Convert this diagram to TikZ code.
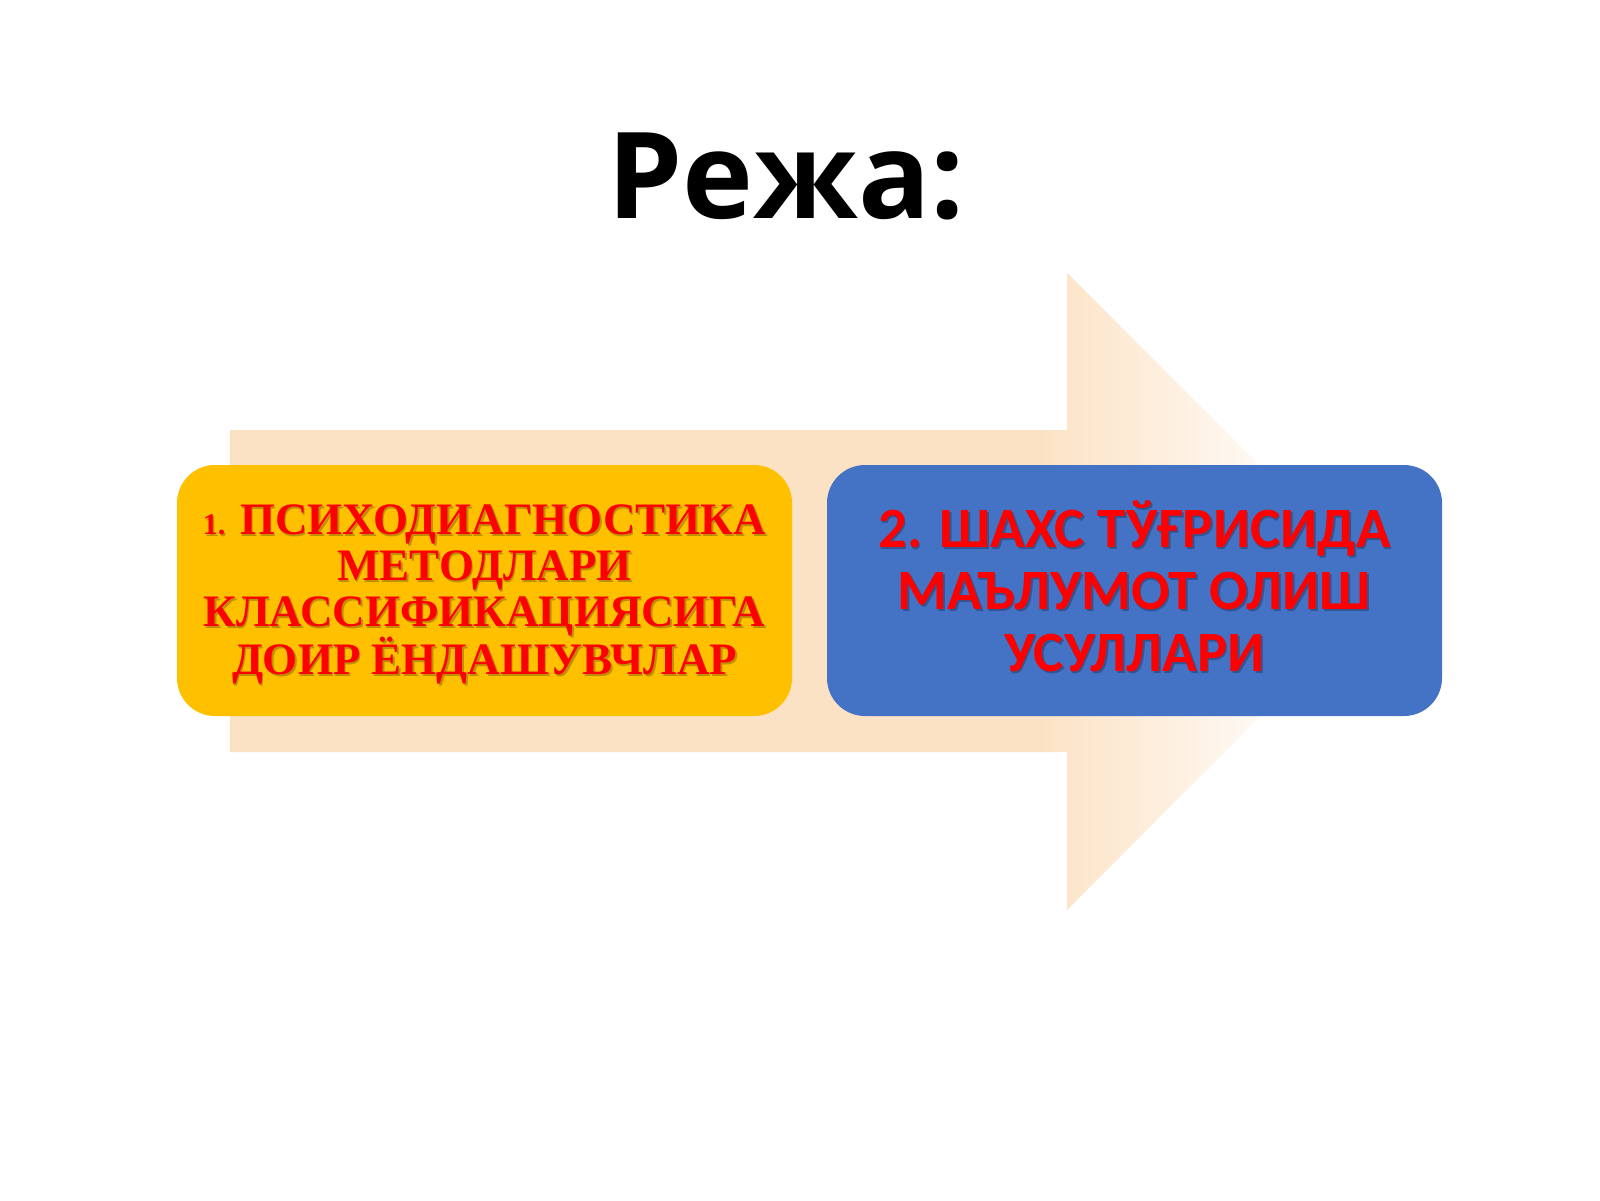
\documentclass[tikz,border=0pt]{standalone}
\usepackage{fontspec}
\setmainfont{Liberation Serif}
\newfontfamily\titlefont{Open Sans}
\newfontfamily\bluefont{Carlito}
\newfontfamily\serifb{Liberation Serif}
\definecolor{peach}{RGB}{252,226,196}
\definecolor{ybox}{RGB}{255,192,0}
\definecolor{bbox}{RGB}{68,114,196}
\definecolor{redtxt}{RGB}{255,0,0}
\pgfdeclarehorizontalshading{arrowfade}{100bp}{color(0bp)=(peach); color(25bp)=(peach); color(60bp)=(peach); color(72bp)=(white); color(100bp)=(white)}
\tikzset{
  pbox/.style={rounded corners=38pt, minimum width=615pt, minimum height=251pt, inner sep=0pt},
  ytext/.style={align=center, inner sep=0pt, font=\serifb\bfseries\fontsize{45}{46}\selectfont},
  btext/.style={align=center, inner sep=0pt, font=\bluefont\bfseries\fontsize{57}{62}\selectfont},
  shadowtxt/.style={text=black, opacity=0.25},
}
\begin{document}
\begin{tikzpicture}[x=1pt,y=-1pt]
\useasboundingbox[fill=white] (0,0) rectangle (1600,1200);
% title
\node[anchor=base, inner sep=0pt, font=\titlefont\bfseries\fontsize{120}{120}\selectfont] (title) at (786,218) {Режа:};
% faded arrow
\path[shading=arrowfade] (230,430) -- (1067,430) -- (1067,273) -- (1385,591) -- (1067,910) -- (1067,752) -- (230,752) -- cycle;
% boxes
\node[pbox, fill=ybox] (b1) at (484.5,590.5) {};
\node[pbox, fill=bbox] (b2) at (1134.5,590.5) {};
% yellow text
\node[ytext, shadowtxt] at ([shift={(1.5,5.5)}]b1.center) {{\fontsize{30}{46}\selectfont 1.} ПСИХОДИАГНОСТИКА\\МЕТОДЛАРИ\\КЛАССИФИКАЦИЯСИГА\\ДОИР ЁНДАШУВЧЛАР};
\node[ytext, text=redtxt] (t1) at ([shift={(0,4)}]b1.center) {{\fontsize{30}{46}\selectfont 1.} ПСИХОДИАГНОСТИКА\\МЕТОДЛАРИ\\КЛАССИФИКАЦИЯСИГА\\ДОИР ЁНДАШУВЧЛАР};
% blue text
\node[btext, shadowtxt] at ([shift={(1.5,-2.5)}]b2.center) {2. ШАХС ТЎҒРИСИДА\\МАЪЛУМОТ ОЛИШ\\УСУЛЛАРИ};
\node[btext, text=redtxt] (t2) at ([shift={(0,-4)}]b2.center) {2. ШАХС ТЎҒРИСИДА\\МАЪЛУМОТ ОЛИШ\\УСУЛЛАРИ};
\end{tikzpicture}
\end{document}
